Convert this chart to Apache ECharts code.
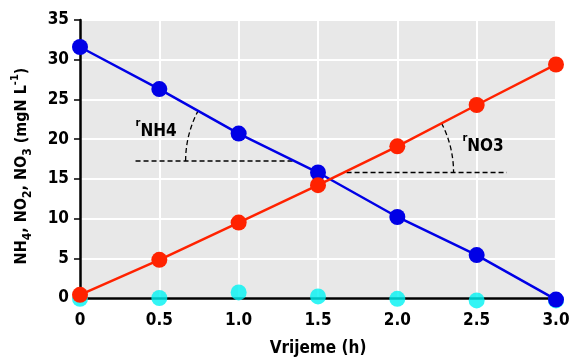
<!DOCTYPE html>
<html>
<head>
<meta charset="utf-8">
<script src="https://cdn.jsdelivr.net/npm/echarts@6/dist/echarts.min.js"></script>
<style>html,body{margin:0;padding:0;background:#fff}#c{width:570px;height:358px}</style>
</head>
<body>
<div id="c"></div>
<script>
// ---- data ----
var times = [0, 0.5, 1.0, 1.5, 2.0, 2.5, 3.0];
var nh4 = [31.6, 26.3, 20.7, 15.8, 10.2, 5.4, -0.2];
var no3 = [0.4, 4.8, 9.5, 14.2, 19.1, 24.3, 29.4];
var no2 = [-0.1, 0.0, 0.7, 0.2, -0.1, -0.3, -0.3];
var xTickLabels = ['0', '0.5', '1.0', '1.5', '2.0', '2.5', '3.0'];
var yTicks = [0, 5, 10, 15, 20, 25, 30, 35];
// annotation guides: [xStart, xEnd, y]
var guideNH4 = [0.35, 1.34, 17.25];
var guideNO3 = [1.68, 2.69, 15.8];
var labelNH4Pos = [0.35, 21.3];
var labelNO3Pos = [2.41, 19.4];

function pairs(xs, ys) { return xs.map(function (x, i) { return [x, ys[i]]; }); }

var FONT = 'DejaVu Sans Condensed';
var chart = echarts.init(document.getElementById('c'), null, {renderer: 'canvas'});

function guideRender(guide, vertexRight, seriesVals, seg, lblPos, name) {
  return function (params, api) {
    var p0 = api.coord([guide[0], guide[2]]);
    var p1 = api.coord([guide[1], guide[2]]);
    var a = api.coord([times[seg], seriesVals[seg]]);
    var b = api.coord([times[seg + 1], seriesVals[seg + 1]]);
    var theta = Math.abs(Math.atan2(b[1] - a[1], b[0] - a[0]));
    if (theta > Math.PI / 2) theta = Math.PI - theta;
    var r = 107;
    var arc;
    if (vertexRight) {
      arc = {type: 'arc', shape: {cx: p1[0], cy: p1[1], r: r, startAngle: Math.PI, endAngle: Math.PI + theta, clockwise: true},
        style: {stroke: '#000', fill: null, lineWidth: 1.3, lineDash: [5, 3]}};
    } else {
      arc = {type: 'arc', shape: {cx: p0[0], cy: p0[1], r: r, startAngle: -theta, endAngle: 0, clockwise: true},
        style: {stroke: '#000', fill: null, lineWidth: 1.3, lineDash: [5, 3]}};
    }
    var lp = api.coord(lblPos);
    return {type: 'group', children: [
      {type: 'line', shape: {x1: p0[0], y1: p0[1], x2: p1[0], y2: p1[1]},
        style: {stroke: '#000', lineWidth: 1.3, lineDash: [5, 3]}},
      arc,
      {type: 'text', x: lp[0], y: lp[1], style: {
        text: '{r|r}{s|' + name + '}', fill: '#000',
        verticalAlign: 'middle', align: 'left',
        rich: {
          r: {fontFamily: FONT, fontWeight: 'bold', fontSize: 11, verticalAlign: 'top', lineHeight: 22, fill: '#000'},
          s: {fontFamily: FONT, fontWeight: 'bold', fontSize: 17, verticalAlign: 'bottom', lineHeight: 17, fill: '#000'}
        }}}
    ]};
  };
}

var option = {
  backgroundColor: '#fff',
  animation: false,
  grid: {left: 80, right: 14, top: 20, bottom: 60, show: true, backgroundColor: '#e8e8e8', borderWidth: 0,
    containLabel: false, outerBoundsMode: 'none'},
  xAxis: {
    type: 'value', min: 0, max: 3, interval: 0.5,
    name: 'Vrijeme (h)', nameLocation: 'middle', nameGap: 42,
    nameTextStyle: {fontFamily: FONT, fontWeight: 'bold', fontSize: 17, color: '#000'},
    axisLine: {show: true, onZero: false, lineStyle: {color: '#000', width: 2.5}},
    axisTick: {show: false},
    axisLabel: {margin: 14, fontFamily: FONT, fontWeight: 'bold', fontSize: 17, color: '#000',
      formatter: function (v) { return xTickLabels[Math.round(v / 0.5)]; }},
    splitLine: {show: true, lineStyle: {color: '#fff', width: 2}}
  },
  yAxis: {
    type: 'value', min: 0, max: 35, interval: 5,
    name: '{b|NH}{s|4}{b|, NO}{s|2}{b|, NO}{s|3}{b| (mgN L}{u|-1}{b|)}',
    nameLocation: 'middle', nameGap: 46, nameRotate: 90,
    nameTextStyle: {
      padding: [0, 14, 0, 0],
      rich: {
        b: {fontFamily: FONT, fontWeight: 'bold', fontSize: 16, color: '#000', lineHeight: 24, verticalAlign: 'middle'},
        s: {fontFamily: FONT, fontWeight: 'bold', fontSize: 12, color: '#000', lineHeight: 12, verticalAlign: 'bottom'},
        u: {fontFamily: FONT, fontWeight: 'bold', fontSize: 11, color: '#000', lineHeight: 11, verticalAlign: 'top'}
      }
    },
    axisLine: {show: true, lineStyle: {color: '#000', width: 2.5}},
    axisTick: {show: true, length: 6, lineStyle: {color: '#000', width: 1.5}},
    axisLabel: {margin: 11, fontFamily: FONT, fontWeight: 'bold', fontSize: 17, color: '#000',
      formatter: function (v) { return String(yTicks[Math.round(v / 5)]); }},
    splitLine: {show: true, lineStyle: {color: '#fff', width: 2}}
  },
  series: [
    {type: 'custom', silent: true, clip: false, z: 3,
      renderItem: guideRender(guideNH4, true, nh4, 1, labelNH4Pos, 'NH4'), data: [[0, 0]]},
    {type: 'custom', silent: true, clip: false, z: 3,
      renderItem: guideRender(guideNO3, false, no3, 4, labelNO3Pos, 'NO3'), data: [[0, 0]]},
    {name: 'NH4', type: 'line', data: pairs(times, nh4), symbol: 'circle', symbolSize: 16, clip: false, z: 5,
      lineStyle: {color: '#0000e6', width: 2.5}, itemStyle: {color: '#0000e6'}},
    {name: 'NO3', type: 'line', data: pairs(times, no3), symbol: 'circle', symbolSize: 16, clip: false, z: 6,
      lineStyle: {color: '#ff2200', width: 2.5}, itemStyle: {color: '#ff2200'}},
    {name: 'NO2', type: 'scatter', data: pairs(times, no2), symbol: 'circle', symbolSize: 16, clip: false, z: 4,
      itemStyle: {color: '#00f2f2'}}
  ]
};
chart.setOption(option);
</script>
</body>
</html>
